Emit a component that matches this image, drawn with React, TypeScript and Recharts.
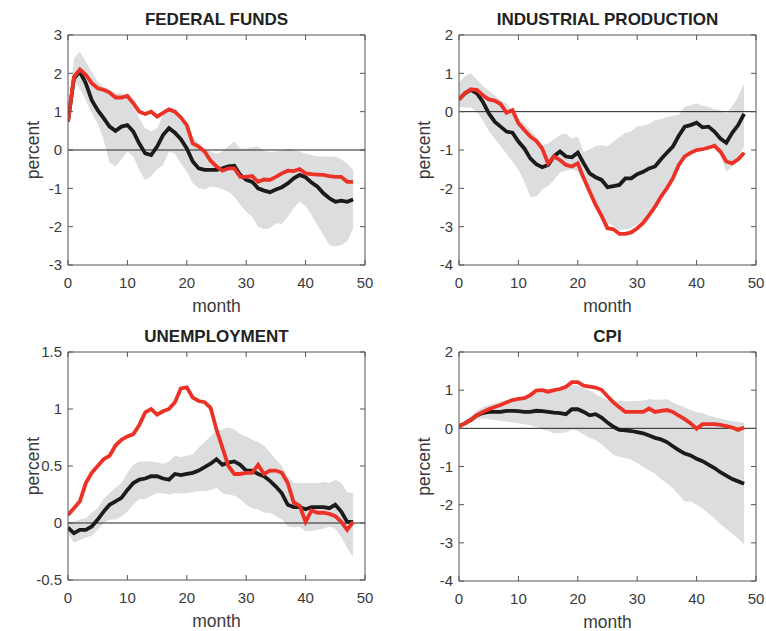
import {
  Area,
  ComposedChart,
  Line,
  ReferenceLine,
  XAxis,
  YAxis,
} from "recharts";

const months = [
  0, 1, 2, 3, 4, 5, 6, 7, 8, 9, 10, 11, 12, 13, 14, 15, 16, 17, 18, 19, 20, 21, 22, 23, 24,
  25, 26, 27, 28, 29, 30, 31, 32, 33, 34, 35, 36, 37, 38, 39, 40, 41, 42, 43, 44, 45, 46, 47, 48,
];
const monthTicks = [0, 10, 20, 30, 40, 50];

// federal funds
const ffRed = [
  0.74, 1.91, 2.1, 1.96, 1.74, 1.61, 1.57, 1.5, 1.37, 1.37,
  1.41, 1.22, 1.0, 0.94, 1.0, 0.87, 0.97, 1.06, 1.0, 0.85,
  0.65, 0.17, 0.09, -0.04, -0.28, -0.43, -0.54, -0.48, -0.48, -0.7,
  -0.7, -0.68, -0.83, -0.77, -0.78, -0.7, -0.61, -0.54, -0.55, -0.5,
  -0.61, -0.63, -0.64, -0.65, -0.68, -0.7, -0.7, -0.83, -0.83,
];
const ffBlack = [
  0.74, 1.87, 2.04, 1.74, 1.3, 1.04, 0.83, 0.61, 0.5, 0.61,
  0.65, 0.48, 0.17, -0.09, -0.13, 0.09, 0.39, 0.57, 0.45, 0.28,
  0.04, -0.3, -0.48, -0.52, -0.52, -0.52, -0.48, -0.43, -0.41, -0.65,
  -0.78, -0.83, -1.0, -1.06, -1.1, -1.03, -0.97, -0.87, -0.74, -0.65,
  -0.71, -0.85, -0.96, -1.13, -1.26, -1.35, -1.32, -1.35, -1.29,
];
const ffHi = [
  0.74, 2.39, 2.57, 2.3, 2.04, 1.78, 1.65, 1.57, 1.48, 1.48,
  1.46, 1.17, 0.83, 0.57, 0.48, 0.57, 0.91, 1.09, 1.0, 0.83,
  0.65, 0.35, 0.17, 0.02, -0.04, -0.1, -0.04, 0.09, 0.22, 0.04,
  0.04, 0.07, 0.09, -0.02, -0.05, -0.04, -0.02, 0.03, 0.0, -0.04,
  -0.1, -0.13, -0.16, -0.17, -0.17, -0.17, -0.24, -0.35, -0.52,
];
const ffLo = [
  0.74, 1.78, 1.61, 1.3, 0.96, 0.7, 0.26, -0.33, -0.43, -0.24,
  -0.04, -0.17, -0.52, -0.78, -0.68, -0.5, -0.39, -0.04, -0.1, -0.35,
  -0.57, -0.87, -1.0, -1.03, -0.96, -0.97, -1.03, -1.09, -1.22, -1.43,
  -1.61, -1.74, -2.0, -2.07, -2.04, -1.91, -1.93, -1.74, -1.52, -1.35,
  -1.46, -1.7, -1.96, -2.22, -2.48, -2.52, -2.48, -2.39, -2.04,
];

// industrial production
const ipRed = [
  0.32, 0.48, 0.58, 0.57, 0.43, 0.32, 0.29, 0.2, -0.03, 0.04,
  -0.3, -0.48, -0.65, -0.76, -0.96, -1.35, -1.17, -1.26, -1.39, -1.43,
  -1.35, -1.74, -2.09, -2.43, -2.72, -3.04, -3.07, -3.19, -3.19, -3.15,
  -3.04, -2.9, -2.7, -2.48, -2.22, -2.0, -1.74, -1.39, -1.17, -1.07,
  -1.0, -0.98, -0.94, -0.89, -1.04, -1.3, -1.35, -1.24, -1.07,
];
const ipBlack = [
  0.32, 0.48, 0.57, 0.48, 0.26, -0.04, -0.26, -0.39, -0.52, -0.55,
  -0.78, -0.96, -1.22, -1.37, -1.45, -1.39, -1.16, -1.04, -1.17, -1.19,
  -1.07, -1.35, -1.61, -1.71, -1.78, -1.97, -1.94, -1.91, -1.74, -1.74,
  -1.63, -1.57, -1.48, -1.43, -1.24, -1.07, -0.91, -0.63, -0.39, -0.35,
  -0.29, -0.41, -0.39, -0.52, -0.7, -0.81, -0.55, -0.35, -0.06,
];
const ipHi = [
  0.74, 0.93, 1.0, 0.84, 0.67, 0.55, 0.43, 0.3, 0.22, 0.0,
  -0.17, -0.32, -0.48, -0.65, -0.87, -0.83, -0.72, -0.61, -0.57, -0.7,
  -0.65, -1.05, -0.98, -0.9, -0.87, -0.91, -0.78, -0.67, -0.55, -0.52,
  -0.39, -0.37, -0.32, -0.22, -0.2, -0.13, -0.11, -0.09, 0.13, 0.17,
  0.22, 0.15, 0.13, 0.06, 0.04, -0.04, 0.15, 0.39, 0.74,
];
const ipLo = [
  0.13, 0.11, 0.11, 0.0, -0.23, -0.5, -0.7, -0.9, -1.09, -1.3,
  -1.52, -1.83, -2.22, -2.22, -2.04, -1.94, -1.78, -1.59, -1.54, -1.5,
  -1.57, -1.83, -2.13, -2.43, -2.74, -2.9, -2.98, -3.09, -3.07, -3.04,
  -2.93, -2.84, -2.7, -2.46, -2.22, -2.0, -1.7, -1.35, -1.1, -1.0,
  -0.96, -0.91, -0.9, -0.91, -1.13, -1.57, -1.43, -1.17, -0.91,
];

// unemployment
const unRed = [
  0.07, 0.13, 0.19, 0.35, 0.44, 0.5, 0.56, 0.59, 0.68, 0.73,
  0.76, 0.78, 0.86, 0.97, 1.0, 0.95, 0.98, 1.0, 1.06, 1.18,
  1.19, 1.1, 1.07, 1.06, 1.01, 0.82, 0.66, 0.5, 0.43, 0.43,
  0.44, 0.44, 0.51, 0.43, 0.46, 0.46, 0.44, 0.35, 0.18, 0.15,
  0.01, 0.11, 0.09, 0.09, 0.08, 0.06, 0.01, -0.06, 0.01,
];
const unBlack = [
  -0.04, -0.09, -0.06, -0.06, -0.03, 0.03, 0.1, 0.16, 0.19, 0.22,
  0.29, 0.35, 0.38, 0.39, 0.41, 0.41, 0.39, 0.38, 0.43, 0.42,
  0.43, 0.44, 0.46, 0.49, 0.52, 0.56, 0.51, 0.53, 0.54, 0.51,
  0.46, 0.46, 0.43, 0.41, 0.37, 0.32, 0.26, 0.16, 0.14, 0.14,
  0.12, 0.14, 0.14, 0.14, 0.13, 0.16, 0.1, 0.01, 0.01,
];
const unHi = [
  0.0, 0.01, 0.03, 0.04, 0.09, 0.13, 0.21, 0.26, 0.31, 0.35,
  0.44, 0.51, 0.54, 0.54, 0.54, 0.53, 0.52, 0.54, 0.59, 0.58,
  0.59, 0.6, 0.66, 0.71, 0.76, 0.81, 0.82, 0.84, 0.82, 0.78,
  0.76, 0.73, 0.71, 0.68, 0.62, 0.56, 0.5, 0.41, 0.35, 0.35,
  0.35, 0.35, 0.35, 0.36, 0.35, 0.38, 0.35, 0.27, 0.26,
];
const unLo = [
  -0.09, -0.17, -0.15, -0.13, -0.11, -0.06, 0.0, 0.03, 0.03, 0.06,
  0.1, 0.16, 0.21, 0.21, 0.24, 0.26, 0.26, 0.25, 0.26, 0.26,
  0.26, 0.27, 0.28, 0.28, 0.29, 0.31, 0.26, 0.25, 0.24, 0.21,
  0.16, 0.13, 0.12, 0.09, 0.09, 0.06, 0.03, -0.03, -0.04, -0.03,
  -0.07, -0.07, -0.06, -0.05, -0.03, -0.05, -0.12, -0.22, -0.3,
];

// cpi
const cpiRed = [
  0.06, 0.13, 0.22, 0.34, 0.43, 0.5, 0.56, 0.61, 0.68, 0.74,
  0.77, 0.79, 0.87, 0.99, 1.0, 0.96, 1.0, 1.03, 1.09, 1.21,
  1.21, 1.12, 1.09, 1.07, 1.01, 0.84, 0.68, 0.55, 0.43, 0.43,
  0.43, 0.43, 0.52, 0.43, 0.46, 0.48, 0.43, 0.33, 0.24, 0.13,
  -0.01, 0.11, 0.11, 0.11, 0.09, 0.06, 0.02, -0.04, 0.02,
];
const cpiBlack = [
  0.06, 0.13, 0.22, 0.34, 0.4, 0.43, 0.43, 0.43, 0.46, 0.46,
  0.45, 0.43, 0.43, 0.46, 0.45, 0.43, 0.41, 0.4, 0.37, 0.5,
  0.5, 0.43, 0.34, 0.37, 0.28, 0.15, 0.04, -0.04, -0.05, -0.07,
  -0.1, -0.13, -0.19, -0.25, -0.29, -0.36, -0.47, -0.57, -0.66, -0.71,
  -0.8, -0.86, -0.95, -1.04, -1.15, -1.24, -1.33, -1.39, -1.45,
];
const cpiHi = [
  0.08, 0.19, 0.33, 0.46, 0.55, 0.61, 0.66, 0.7, 0.74, 0.77,
  0.8, 0.84, 0.87, 0.93, 0.94, 0.93, 0.96, 0.99, 1.05, 1.14,
  1.12, 1.05, 0.99, 0.9, 0.81, 0.75, 0.72, 0.72, 0.71, 0.71,
  0.72, 0.72, 0.77, 0.75, 0.75, 0.77, 0.68, 0.61, 0.55, 0.48,
  0.43, 0.4, 0.34, 0.3, 0.26, 0.22, 0.19, 0.17, 0.13,
];
const cpiLo = [
  0.04, 0.08, 0.15, 0.24, 0.26, 0.24, 0.22, 0.19, 0.18, 0.15,
  0.13, 0.11, 0.08, 0.04, -0.03, -0.07, -0.13, -0.13, -0.1, -0.03,
  -0.07, -0.16, -0.25, -0.31, -0.42, -0.56, -0.69, -0.75, -0.78, -0.82,
  -0.91, -1.01, -1.1, -1.19, -1.33, -1.44, -1.57, -1.74, -1.92, -1.92,
  -2.01, -2.1, -2.23, -2.36, -2.51, -2.63, -2.76, -2.89, -3.04,
];

const ffTicks = [-3, -2, -1, 0, 1, 2, 3];
const ipTicks = [-4, -3, -2, -1, 0, 1, 2];
const unTicks = [-0.5, 0, 0.5, 1, 1.5];
const cpiTicks = [-4, -3, -2, -1, 0, 1, 2];

const RED = "#ec3226";
const BLACK = "#1b1b1b";
const BAND = "#dcddde";
const AXIS = "#555555";
const TEXT = "#3a3a3a";

const buildRows = (red: number[], black: number[], lo: number[], hi: number[]) =>
  months.map((m, i) => ({ month: m, red: red[i], black: black[i], band: [lo[i], hi[i]] }));

// box sides carry tick marks but no labels
const NoLabel = () => <g />;

type PanelProps = {
  title: string;
  red: number[];
  black: number[];
  lo: number[];
  hi: number[];
  yTicks: number[];
  left: number;
  top: number;
  width: number;
  height: number;
  marginLeft: number;
  marginRight: number;
};

function Panel({ title, red, black, lo, hi, yTicks, left, top, width, height, marginLeft, marginRight }: PanelProps) {
  const rows = buildRows(red, black, lo, hi);
  const domain = [yTicks[0], yTicks[yTicks.length - 1]];
  const plotLeft = marginLeft + 60;
  const plotWidth = width - plotLeft - marginRight;

  return (
    <div style={{ position: "absolute", left, top, width, height }}>
      <div
        style={{
          position: "absolute",
          left: plotLeft,
          width: plotWidth,
          top: 9,
          lineHeight: "22px",
          textAlign: "center",
          fontWeight: "bold",
          fontSize: 17,
          color: "#222",
        }}
      >
        {title}
      </div>
      <ComposedChart
        width={width}
        height={height}
        data={rows}
        margin={{ top: 30, right: marginRight - 5, bottom: 0, left: marginLeft }}
      >
        <XAxis
          dataKey="month"
          type="number"
          domain={[0, 50]}
          ticks={monthTicks}
          allowDataOverflow
          height={50}
          tickSize={-5}
          tickMargin={17}
          stroke={AXIS}
          tick={{ fill: TEXT, fontSize: 15 }}
          label={{ value: "month", position: "insideBottom", offset: 3, fill: TEXT, fontSize: 17.5 }}
        />
        <XAxis
          xAxisId="top"
          orientation="top"
          dataKey="month"
          type="number"
          domain={[0, 50]}
          ticks={monthTicks}
          allowDataOverflow
          height={5}
          tickSize={-5}
          tick={NoLabel}
          stroke={AXIS}
        />
        <YAxis
          type="number"
          domain={domain}
          ticks={yTicks}
          allowDataOverflow
          width={60}
          tickSize={-5}
          tickMargin={11}
          stroke={AXIS}
          tick={{ fill: TEXT, fontSize: 15 }}
          label={{ value: "percent", angle: -90, position: "center", dx: -5, fill: TEXT, fontSize: 17.5 }}
        />
        <YAxis
          yAxisId="right"
          orientation="right"
          type="number"
          domain={domain}
          ticks={yTicks}
          allowDataOverflow
          width={5}
          tickSize={-5}
          tick={NoLabel}
          stroke={AXIS}
        />
        <Area dataKey="band" fill={BAND} fillOpacity={1} stroke="none" isAnimationActive={false} />
        {/* invisible series so the box axes on top/right get drawn */}
        <Line xAxisId="top" yAxisId="right" dataKey="black" stroke="none" dot={false} activeDot={false} isAnimationActive={false} />
        <ReferenceLine y={0} stroke="#222" strokeWidth={1} />
        <Line dataKey="black" stroke={BLACK} strokeWidth={3.8} dot={false} activeDot={false} isAnimationActive={false} />
        <Line dataKey="red" stroke={RED} strokeWidth={3.8} dot={false} activeDot={false} isAnimationActive={false} />
      </ComposedChart>
    </div>
  );
}

export default function App() {
  return (
    <div
      style={{
        position: "fixed",
        left: 0,
        top: 0,
        width: 766,
        height: 631,
        background: "#fff",
        fontFamily: "'Liberation Sans', Arial, Helvetica, sans-serif",
      }}
    >
      <Panel title="FEDERAL FUNDS" red={ffRed} black={ffBlack} lo={ffLo} hi={ffHi} yTicks={ffTicks}
        left={0} top={0} width={383} height={315} marginLeft={8} marginRight={18} />
      <Panel title="INDUSTRIAL PRODUCTION" red={ipRed} black={ipBlack} lo={ipLo} hi={ipHi} yTicks={ipTicks}
        left={390} top={0} width={376} height={315} marginLeft={9} marginRight={10} />
      <Panel title="UNEMPLOYMENT" red={unRed} black={unBlack} lo={unLo} hi={unHi} yTicks={unTicks}
        left={0} top={317} width={383} height={313} marginLeft={8} marginRight={18} />
      <Panel title="CPI" red={cpiRed} black={cpiBlack} lo={cpiLo} hi={cpiHi} yTicks={cpiTicks}
        left={390} top={317} width={376} height={314} marginLeft={9} marginRight={10} />
    </div>
  );
}
